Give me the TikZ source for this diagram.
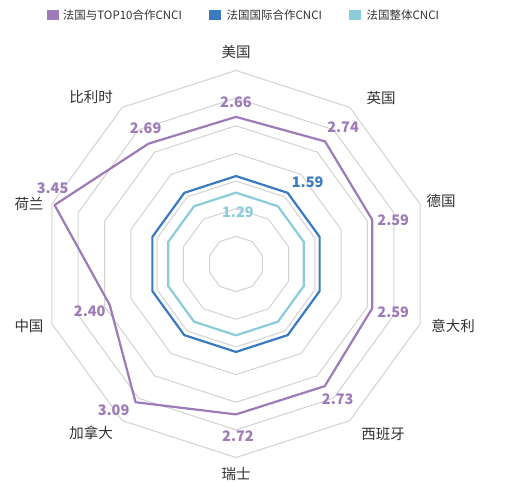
\documentclass[tikz,border=0pt]{standalone}
\usepackage{fontspec}
\newfontfamily\cjk{Noto Sans CJK SC}
\usetikzlibrary{positioning,calc}
\definecolor{topten}{HTML}{9D7AB8}
\definecolor{intl}{HTML}{3A7BBF}
\definecolor{whole}{HTML}{8ACCDB}
\definecolor{gridgray}{HTML}{D2D2D2}
\definecolor{txtgray}{HTML}{333333}

\begin{document}
\begin{tikzpicture}[x=1pt,y=1pt,
  axislbl/.style={font=\cjk\fontsize{14.5}{14.5}\selectfont, text=txtgray, inner sep=0pt},
  vallbl/.style={font=\cjk\bfseries\fontsize{14.5}{14.5}\selectfont, inner sep=0pt},
  legtext/.style={font=\cjk\fontsize{11.5}{11.5}\selectfont, text=txtgray, anchor=west, inner sep=0pt},
  legbox/.style={minimum width=12pt, minimum height=10pt, inner sep=0pt},
  series/.style={line width=2.2pt, line join=round}]
  \useasboundingbox[fill=white] (0,0) rectangle (520,494);
  % legend
  \node[legbox, fill=topten] (k1) at (52.5,478.7) {};
  \node[legtext, right=4pt of k1] (t1) {法国与TOP10合作CNCI};
  \node[legbox, fill=intl] (k2) at (215.2,478.7) {};
  \node[legtext, right=5pt of k2] (t2) {法国国际合作CNCI};
  \node[legbox, fill=whole] (k3) at (355.2,478.7) {};
  \node[legtext, right=5pt of k3] (t3) {法国整体CNCI};
  \begin{scope}[shift={(236,230)}]
    % grid rings, 0.5 per ring
    \foreach \r in {1,...,7}
      \draw[gridgray, line width=1pt] (90:\r*27.65)
        \foreach \a in {1,...,9} { -- (90-36*\a:\r*27.65) } -- cycle;
    % data points
    \foreach \v [count=\i from 0] in {1.29,1.29,1.29,1.29,1.29,1.29,1.29,1.29,1.29,1.29}
      \coordinate (w\i) at (90-36*\i:\v*55.3);
    \foreach \v [count=\i from 0] in {1.59,1.59,1.59,1.59,1.59,1.59,1.59,1.59,1.59,1.59}
      \coordinate (n\i) at (90-36*\i:\v*55.3);
    \foreach \v [count=\i from 0] in {2.66,2.74,2.59,2.59,2.73,2.72,3.09,2.40,3.45,2.69}
      \coordinate (p\i) at (90-36*\i:\v*55.3);
    \draw[series, whole] (w0) -- (w1) -- (w2) -- (w3) -- (w4) -- (w5) -- (w6) -- (w7) -- (w8) -- (w9) -- cycle;
    \draw[series, intl] (n0) -- (n1) -- (n2) -- (n3) -- (n4) -- (n5) -- (n6) -- (n7) -- (n8) -- (n9) -- cycle;
    \draw[series, topten] (p0) -- (p1) -- (p2) -- (p3) -- (p4) -- (p5) -- (p6) -- (p7) -- (p8) -- (p9) -- cycle;
  \end{scope}
  % value labels
  \node[vallbl, text=topten] (v0) at ($(p0)+(0,15)$) {2.66};
  \node[vallbl, text=topten] (v1) at ($(p1)+(18,14)$) {2.74};
  \node[vallbl, text=topten] (v2) at ($(p2)+(21,-1)$) {2.59};
  \node[vallbl, text=topten] (v3) at ($(p3)+(21,-4)$) {2.59};
  \node[vallbl, text=topten] (v4) at ($(p4)+(13,-13)$) {2.73};
  \node[vallbl, text=topten] (v5) at ($(p5)+(2,-22)$) {2.72};
  \node[vallbl, text=topten] (v6) at ($(p6)+(-22,-8)$) {3.09};
  \node[vallbl, text=topten] (v7) at ($(p7)+(-20,-6)$) {2.40};
  \node[vallbl, text=topten] (v8) at ($(p8)+(-2,17)$) {3.45};
  \node[vallbl, text=topten] (v9) at ($(p9)+(-3,15)$) {2.69};
  \node[vallbl, text=intl] (u1) at ($(n1)+(20,11)$) {1.59};
  \node[vallbl, text=whole] (s1) at ($(w1)+(-40,-6)$) {1.29};
  % axis names
  \node[axislbl] (usa) at (236,442) {美国};
  \node[axislbl] (uk) at (381,396) {英国};
  \node[axislbl] (de) at (441,293) {德国};
  \node[axislbl] (it) at (453,168) {意大利};
  \node[axislbl] (es) at (383,60) {西班牙};
  \node[axislbl] (ch) at (236,20) {瑞士};
  \node[axislbl] (ca) at (91,61) {加拿大};
  \node[axislbl] (cn) at (29,168) {中国};
  \node[axislbl] (nl) at (29,290) {荷兰};
  \node[axislbl] (be) at (91,397) {比利时};
\end{tikzpicture}
\end{document}
